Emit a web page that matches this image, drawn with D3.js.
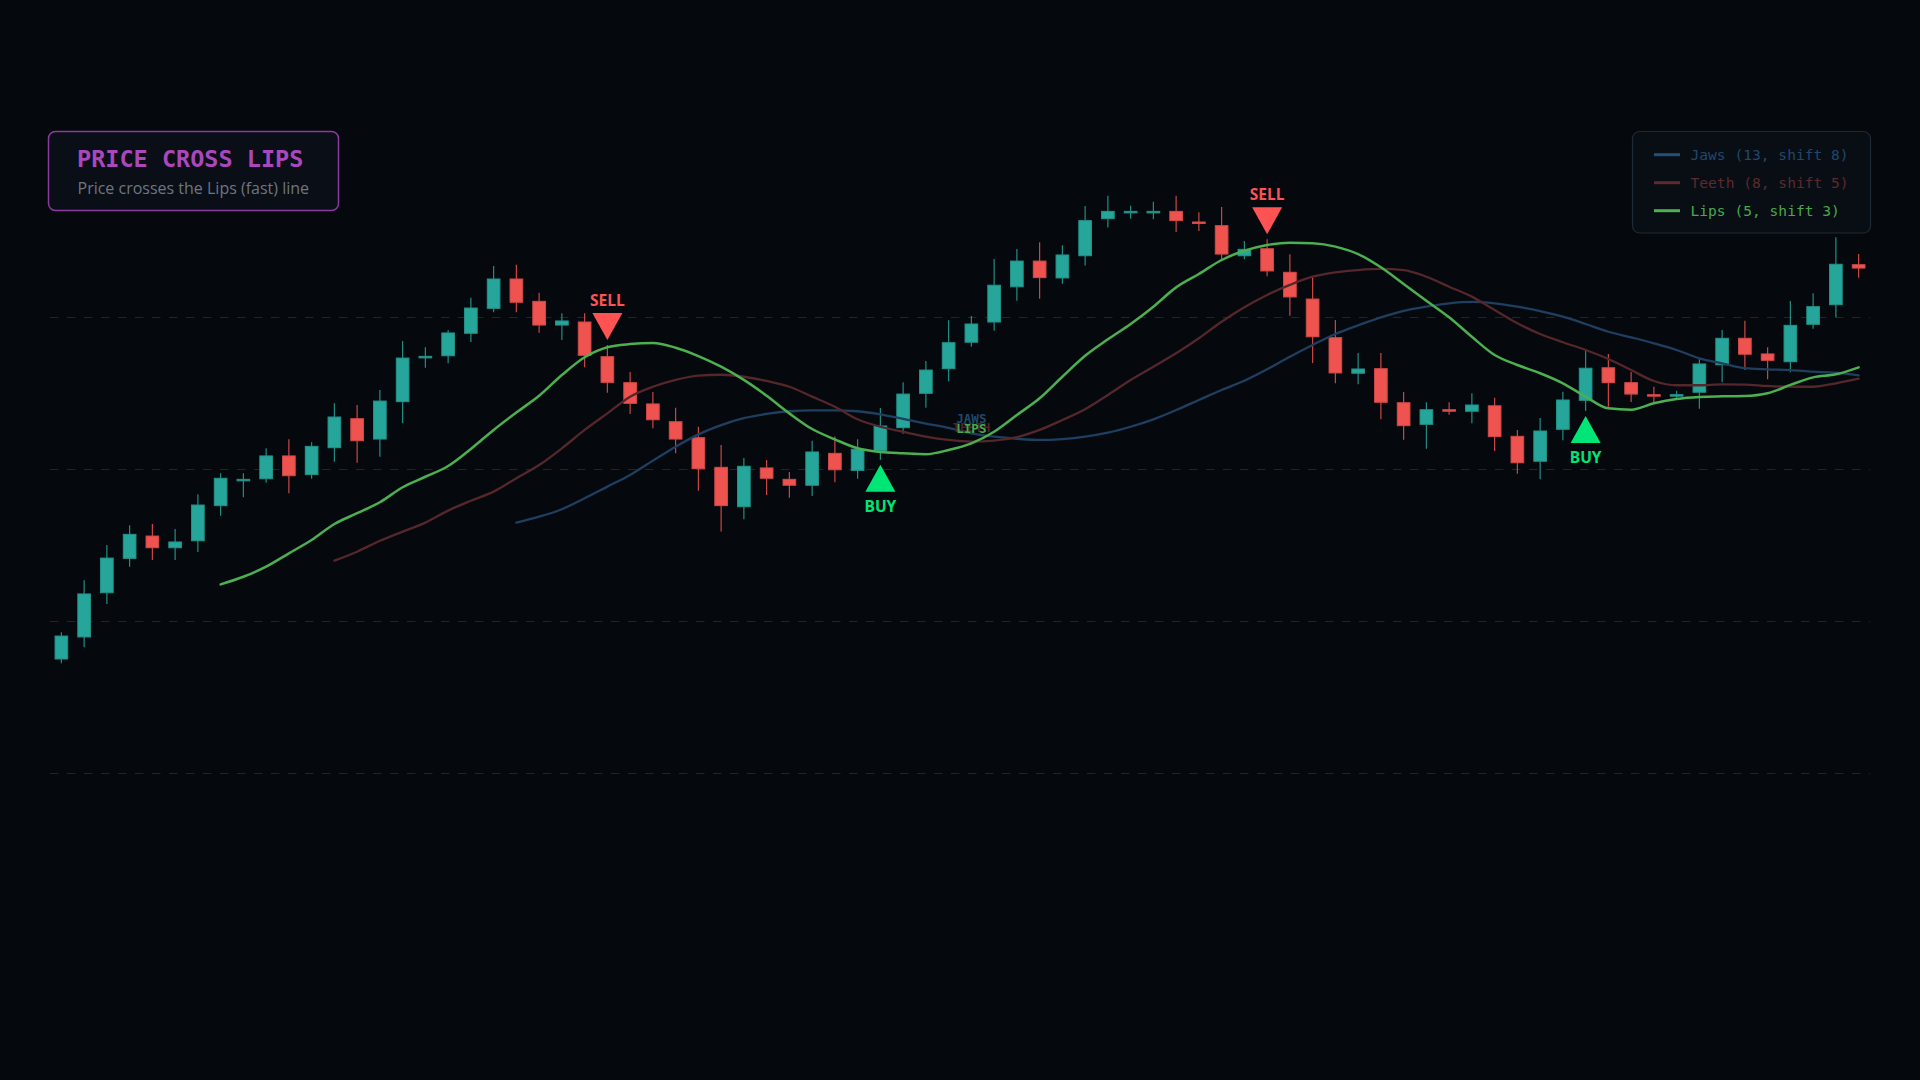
<!DOCTYPE html>
<html>
<head>
<meta charset="utf-8">
<script src="https://cdn.jsdelivr.net/npm/d3@7"></script>
<style>
  html, body { margin: 0; padding: 0; background: #05090e; }
  svg { display: block; }
</style>
</head>
<body>
<svg id="chart" width="1920" height="1080"></svg>
<script>
// ---------------- DATA ----------------
const BARS = d3.range(80); // candle index (categories)

const OPEN = [97.50, 98.95, 101.86, 104.12, 105.59, 104.82, 105.28, 107.59, 109.26, 109.36,
  110.86, 109.63, 111.40, 113.31, 111.97, 114.43, 117.36, 117.45, 118.93, 120.57,
  122.50, 121.03, 119.47, 119.67, 117.39, 115.68, 114.28, 113.11, 112.06, 110.11,
  107.52, 110.07, 109.32, 108.93, 111.03, 109.91, 111.20, 112.72, 114.98, 116.60,
  118.34, 119.67, 121.99, 123.68, 122.57, 124.03, 126.47, 126.91, 126.91, 126.95,
  126.25, 126.01, 124.03, 124.49, 122.94, 121.18, 118.64, 116.30, 116.60, 114.36,
  112.94, 113.90, 113.80, 114.16, 112.15, 110.51, 112.61, 114.52, 116.66, 115.68,
  114.89, 114.85, 115.05, 116.86, 118.60, 117.57, 117.06, 119.52, 120.81, 123.44];

const HIGH = [99.26, 102.68, 105.00, 106.30, 106.38, 106.05, 108.34, 109.72, 109.72, 111.36,
  111.95, 111.76, 114.32, 114.21, 115.20, 118.42, 118.01, 119.14, 121.27, 123.36,
  123.44, 121.60, 120.24, 120.24, 118.16, 116.38, 115.07, 114.03, 112.78, 111.58,
  110.72, 110.59, 109.80, 111.86, 112.13, 111.95, 114.01, 115.70, 117.11, 119.78,
  120.07, 123.82, 124.47, 124.91, 124.72, 127.30, 127.98, 127.32, 127.59, 127.98,
  126.89, 127.24, 125.00, 125.11, 124.13, 122.63, 119.80, 117.63, 117.63, 115.07,
  114.39, 114.39, 114.98, 114.69, 112.57, 113.36, 115.09, 117.88, 117.57, 116.38,
  115.41, 115.15, 117.28, 119.14, 119.76, 118.01, 121.05, 121.56, 125.24, 124.14];

const LOW = [97.22, 98.27, 101.12, 103.57, 104.01, 104.01, 104.54, 106.93, 108.14, 109.10,
  108.40, 109.36, 110.48, 110.41, 110.81, 113.01, 116.66, 116.95, 118.36, 120.31,
  120.31, 118.97, 118.49, 116.69, 115.02, 113.62, 112.68, 111.03, 108.57, 105.88,
  106.69, 108.29, 108.11, 108.22, 109.13, 109.36, 110.61, 112.32, 114.03, 115.77,
  118.05, 119.10, 121.07, 121.20, 122.19, 123.38, 125.88, 126.47, 126.43, 125.59,
  125.66, 123.80, 123.80, 122.68, 120.09, 116.97, 115.64, 115.57, 113.27, 111.93,
  111.34, 113.57, 113.01, 111.18, 109.69, 109.32, 111.89, 113.82, 114.10, 114.41,
  114.36, 114.54, 113.97, 115.70, 116.51, 115.90, 116.36, 119.23, 119.98, 122.59];

const CLOSE = [99.01, 101.78, 104.14, 105.70, 104.82, 105.20, 107.63, 109.39, 109.32, 110.86,
  109.56, 111.49, 113.42, 111.86, 114.47, 117.30, 117.41, 118.95, 120.59, 122.50,
  120.97, 119.47, 119.74, 117.48, 115.70, 114.32, 113.24, 111.97, 110.02, 107.59,
  110.18, 109.39, 108.93, 111.12, 109.95, 111.30, 112.83, 114.93, 116.51, 118.31,
  119.54, 122.09, 123.68, 122.59, 124.08, 126.34, 126.95, 126.95, 126.95, 126.34,
  126.21, 124.14, 124.45, 123.03, 121.32, 118.70, 116.32, 116.58, 114.39, 112.85,
  113.90, 113.86, 114.21, 112.13, 110.41, 112.50, 114.54, 116.63, 115.68, 114.93,
  114.85, 114.89, 116.91, 118.60, 117.55, 117.15, 119.45, 120.68, 123.47, 123.22];

// Alligator lines (already shifted), first value sits on bar *_START
const JAWS_START = 20;
const JAWS = [106.47, 106.86, 107.35, 108.07, 108.84, 109.61, 110.55, 111.47, 112.28, 112.89,
  113.34, 113.62, 113.80, 113.86, 113.86, 113.80, 113.60, 113.29, 112.99, 112.70,
  112.35, 112.13, 111.99, 111.91, 111.97, 112.13, 112.39, 112.78, 113.27, 113.88,
  114.54, 115.20, 115.81, 116.56, 117.39, 118.16, 118.88, 119.45, 119.98, 120.41,
  120.68, 120.90, 120.99, 120.90, 120.68, 120.39, 120.02, 119.54, 119.03, 118.66,
  118.27, 117.83, 117.28, 116.95, 116.63, 116.56, 116.51, 116.40, 116.34, 116.16];

const TEETH_START = 12;
const TEETH = [103.97, 104.56, 105.28, 105.88, 106.47, 107.26, 107.91, 108.51, 109.39, 110.26,
  111.36, 112.57, 113.66, 114.76, 115.41, 115.86, 116.14, 116.20, 116.07, 115.79,
  115.41, 114.76, 114.10, 113.27, 112.78, 112.45, 112.13, 111.91, 111.80, 111.86,
  112.09, 112.57, 113.22, 113.93, 114.87, 115.86, 116.73, 117.61, 118.60, 119.69,
  120.64, 121.45, 122.11, 122.65, 122.94, 123.09, 123.16, 123.09, 122.65, 121.99,
  121.34, 120.46, 119.59, 118.88, 118.34, 117.83, 117.24, 116.51, 115.79, 115.51,
  115.51, 115.57, 115.55, 115.46, 115.41, 115.41, 115.64, 115.94];

const LIPS_START = 7;
const LIPS = [102.41, 102.91, 103.57, 104.45, 105.33, 106.38, 107.09, 107.81, 108.80, 109.49,
  110.20, 111.32, 112.57, 113.72, 114.82, 116.18, 117.35, 118.01, 118.22, 118.29,
  117.98, 117.43, 116.73, 115.86, 114.82, 113.66, 112.63, 111.95, 111.36, 111.12,
  111.03, 110.97, 111.25, 111.69, 112.45, 113.55, 114.65, 116.07, 117.45, 118.53,
  119.54, 120.68, 121.95, 122.83, 123.75, 124.36, 124.74, 124.89, 124.85, 124.63,
  124.14, 123.27, 122.17, 121.07, 119.98, 118.70, 117.50, 116.84, 116.30, 115.64,
  114.76, 113.99, 113.90, 114.32, 114.61, 114.74, 114.78, 114.80, 114.98, 115.53,
  116.03, 116.23, 116.69];

const SELL_BARS = [24, 53];
const BUY_BARS = [36, 67];
const GRID_TICKS = [90, 100, 110, 120];
const LINE_LABEL_BAR = 40;

const TITLE = "PRICE CROSS LIPS";
const SUBTITLE = "Price crosses the Lips (fast) line";
const LEGEND_LABELS = ["Jaws (13, shift 8)", "Teeth (8, shift 5)", "Lips (5, shift 3)"];
const LINE_NAMES = ["JAWS", "TEETH", "LIPS"];

// ---------------- STYLE ----------------
const UP = "#26a69a", DOWN = "#ef5350";
const JAWS_COLOR = "#1e3f60", TEETH_COLOR = "#55262a", LIPS_COLOR = "#4caf50";
const JAWS_TEXT = "#21476c", TEETH_TEXT = "#5c2a2e", LIPS_TEXT = "#46a94b";

// ---------------- SCALES ----------------
const svg = d3.select("#chart");
const x = d3.scaleBand().domain(BARS).range([50, 1870]).paddingInner(0.4).paddingOuter(0.2);
const y = d3.scaleLinear().domain([90, 120]).range([773, 317]);
const cx = i => x(i) + x.bandwidth() / 2;

// grid
const yAxis = d3.axisLeft(y).tickValues(GRID_TICKS).tickSize(-1820).tickFormat("");
const g = svg.append("g").attr("transform", "translate(50,0)").call(yAxis);
g.select(".domain").remove();
g.selectAll(".tick line").attr("stroke", "#1d2530").attr("stroke-dasharray", "8.5,8.5").attr("stroke-width", 1);

// candles
const candles = BARS.map(i => ({ i, o: OPEN[i], h: HIGH[i], l: LOW[i], c: CLOSE[i] }));
const cg = svg.append("g");
cg.selectAll("line.wick").data(candles).join("line")
  .attr("x1", d => cx(d.i)).attr("x2", d => cx(d.i))
  .attr("y1", d => y(d.h)).attr("y2", d => y(d.l))
  .attr("stroke", d => d.c >= d.o ? UP : DOWN).attr("stroke-width", 1.2).attr("opacity", 0.85);
cg.selectAll("rect.body").data(candles).join("rect")
  .attr("x", d => x(d.i) + 0.5)
  .attr("width", x.bandwidth() - 1)
  .attr("y", d => Math.min(y(d.o), y(d.c)))
  .attr("height", d => Math.max(1.5, Math.abs(y(d.o) - y(d.c))))
  .attr("fill", d => d.c >= d.o ? UP : DOWN)
  .attr("stroke", d => d3.color(d.c >= d.o ? UP : DOWN).darker(0.35))
  .attr("stroke-width", 1);

// alligator lines
const lineGen = d3.line().x(d => cx(d.i)).y(d => y(d.v)).curve(d3.curveMonotoneX);
const series = [
  { vals: JAWS, start: JAWS_START, color: JAWS_COLOR, w: 2.3 },
  { vals: TEETH, start: TEETH_START, color: TEETH_COLOR, w: 2.3 },
  { vals: LIPS, start: LIPS_START, color: LIPS_COLOR, w: 2.5 }
];
series.forEach(s => {
  const pts = s.vals.map((v, k) => ({ i: s.start + k, v }));
  svg.append("path").datum(pts).attr("d", lineGen)
    .attr("fill", "none").attr("stroke", s.color).attr("stroke-width", s.w)
    .attr("stroke-linejoin", "round").attr("stroke-linecap", "round");
});

// line labels
const labelColors = [JAWS_TEXT, "#4e2428", LIPS_TEXT];
series.forEach((s, k) => {
  const v = s.vals[LINE_LABEL_BAR - s.start];
  svg.append("text").attr("x", cx(LINE_LABEL_BAR)).attr("y", y(v) - 10)
    .attr("text-anchor", "middle").attr("font-family", "DejaVu Sans Mono")
    .attr("font-weight", "bold").attr("font-size", 12.5)
    .attr("fill", labelColors[k]).text(LINE_NAMES[k]);
});

// signals
const TRI_W = 30, TRI_H = 27;
SELL_BARS.forEach(i => {
  const tip = y(HIGH[i]) - 5, top = tip - TRI_H, xc = cx(i);
  svg.append("path").attr("d", `M${xc - TRI_W / 2},${top}L${xc + TRI_W / 2},${top}L${xc},${tip}Z`).attr("fill", "#ff5252");
  svg.append("text").attr("x", xc).attr("y", top - 7).attr("text-anchor", "middle")
    .attr("font-family", "Open Sans").attr("font-weight", "bold").attr("font-size", 15.5)
    .attr("fill", "#ff5252").text("SELL");
});
BUY_BARS.forEach(i => {
  const tip = y(LOW[i]) + 5, base = tip + TRI_H, xc = cx(i);
  svg.append("path").attr("d", `M${xc - TRI_W / 2},${base}L${xc + TRI_W / 2},${base}L${xc},${tip}Z`).attr("fill", "#00e676");
  svg.append("text").attr("x", xc).attr("y", base + 20).attr("text-anchor", "middle")
    .attr("font-family", "Open Sans").attr("font-weight", "bold").attr("font-size", 15.5)
    .attr("fill", "#00e676").text("BUY");
});

// title box
svg.append("rect").attr("x", 48.5).attr("y", 131.5).attr("width", 290).attr("height", 79).attr("rx", 7)
  .attr("fill", "#0a0e16").attr("stroke", "#8b3a9d").attr("stroke-width", 1.5);
svg.append("text").attr("x", 77).attr("y", 166.5).attr("font-family", "DejaVu Sans Mono")
  .attr("font-weight", "bold").attr("font-size", 23.5).attr("fill", "#ab47bc").text(TITLE);
svg.append("text").attr("x", 77.5).attr("y", 194).attr("font-family", "Open Sans")
  .attr("font-size", 16).attr("fill", "#6e7681").text(SUBTITLE);

// legend
svg.append("rect").attr("x", 1632.5).attr("y", 131.5).attr("width", 238).attr("height", 101.5).attr("rx", 7)
  .attr("fill", "#090e15").attr("stroke", "#1e2936").attr("stroke-width", 1.2);
const legColors = [["#23507a", JAWS_TEXT], ["#5e2a2e", TEETH_TEXT], [LIPS_COLOR, LIPS_TEXT]];
LEGEND_LABELS.forEach((t, k) => {
  const cy = 154.7 + k * 28;
  svg.append("line").attr("x1", 1654).attr("x2", 1680).attr("y1", cy).attr("y2", cy)
    .attr("stroke", legColors[k][0]).attr("stroke-width", 3);
  svg.append("text").attr("x", 1690.5).attr("y", cy + 5).attr("font-family", "DejaVu Sans Mono")
    .attr("font-size", 14.6).attr("fill", legColors[k][1]).text(t);
});
</script>
</body>
</html>
